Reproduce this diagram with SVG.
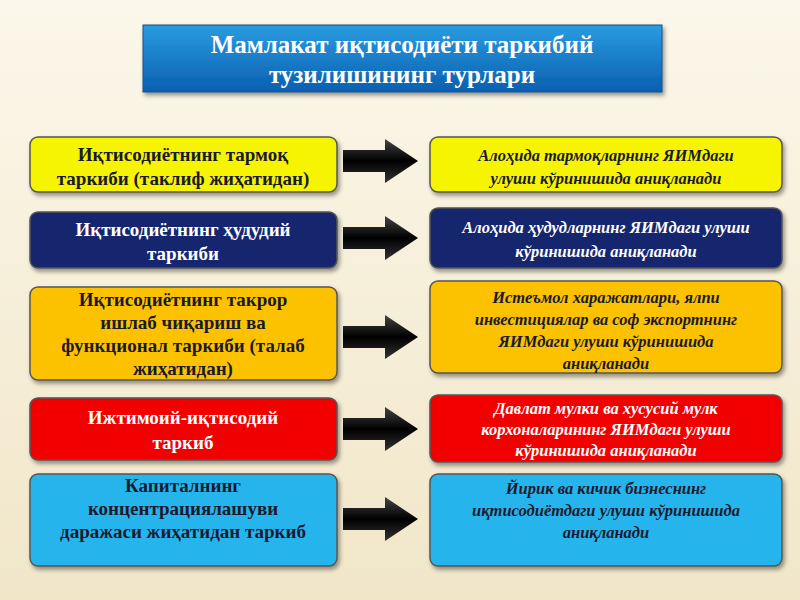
<svg xmlns="http://www.w3.org/2000/svg" width="800" height="600" viewBox="0 0 800 600">
<defs>
<linearGradient id="bg" x1="0" y1="0" x2="0" y2="1"><stop offset="0" stop-color="#fbf7ea"/><stop offset="1" stop-color="#f1e6c8"/></linearGradient>
<linearGradient id="tg" x1="0" y1="0" x2="0" y2="1"><stop offset="0" stop-color="#2a9ce0"/><stop offset="1" stop-color="#0a5fb0"/></linearGradient>
<linearGradient id="ag" x1="0" y1="0" x2="0" y2="1"><stop offset="0" stop-color="#444"/><stop offset="0.5" stop-color="#000"/><stop offset="1" stop-color="#333"/></linearGradient>
<filter id="sh" x="-5%" y="-10%" width="110%" height="130%"><feDropShadow dx="2" dy="3" stdDeviation="2" flood-color="#000" flood-opacity="0.4"/></filter>
</defs>
<style>
.b{stroke:#555;stroke-width:1.5;filter:url(#sh)}
.l{font-family:"Liberation Serif",serif;font-weight:bold;font-size:19px;text-anchor:middle}
.r{font-family:"Liberation Serif",serif;font-weight:bold;font-style:italic;font-size:16.5px;text-anchor:middle}
.d{fill:#1a1a2e}.w{fill:#fff}
.a{fill:url(#ag)}
</style>
<rect width="800" height="600" fill="url(#bg)"/>
<g id="title">
<rect x="143" y="25" width="519" height="67" fill="url(#tg)" stroke="#1a4f8a" filter="url(#sh)"/>
<text x="402" y="53" class="l w" style="font-size:25px">Мамлакат иқтисодиёти таркибий</text>
<text x="402" y="83" class="l w" style="font-size:25px">тузилишининг турлари</text>
</g>
<g id="n1"><rect class="b" x="30" y="137" width="307" height="55" rx="8" fill="#f7f400"/>
<text x="183" y="161" class="l d">Иқтисодиётнинг тармоқ</text><text x="183" y="185" class="l d">таркиби (таклиф жиҳатидан)</text></g>
<g id="n2"><rect class="b" x="30" y="212" width="307" height="56" rx="8" fill="#14286e"/>
<text x="183" y="236" class="l w">Иқтисодиётнинг ҳудудий</text><text x="183" y="260" class="l w">таркиби</text></g>
<g id="n3"><rect class="b" x="30" y="287" width="307" height="93" rx="8" fill="#fcc200"/>
<text x="183" y="306" class="l d">Иқтисодиётнинг такрор</text><text x="183" y="329" class="l d">ишлаб чиқариш ва</text><text x="183" y="352" class="l d">функционал таркиби (талаб</text><text x="183" y="375" class="l d">жиҳатидан)</text></g>
<g id="n4"><rect class="b" x="30" y="398" width="307" height="62" rx="8" fill="#f20000"/>
<text x="183" y="424" class="l w">Ижтимоий-иқтисодий</text><text x="183" y="449" class="l w">таркиб</text></g>
<g id="n5"><rect class="b" x="30" y="474" width="307" height="92" rx="8" fill="#27b4ec"/>
<text x="183" y="492" class="l d">Капиталнинг</text><text x="183" y="515" class="l d">концентрациялашуви</text><text x="183" y="538" class="l d">даражаси жиҳатидан таркиб</text></g>
<g id="m1"><rect class="b" x="430" y="137" width="352" height="55" rx="8" fill="#f7f400"/>
<text x="606" y="161" class="r d">Алоҳида тармоқларнинг ЯИМдаги</text><text x="606" y="184" class="r d">улуши кўринишида аниқланади</text></g>
<g id="m2"><rect class="b" x="430" y="208" width="352" height="60" rx="8" fill="#14286e"/>
<text x="606" y="233" class="r w">Алоҳида ҳудудларнинг ЯИМдаги улуши</text><text x="606" y="257" class="r w">кўринишида аниқланади</text></g>
<g id="m3"><rect class="b" x="430" y="281" width="352" height="92" rx="8" fill="#fcc200"/>
<text x="606" y="303" class="r d">Истеъмол харажатлари, ялпи</text><text x="606" y="325" class="r d">инвестициялар ва соф экспортнинг</text><text x="606" y="347" class="r d">ЯИМдаги улуши кўринишида</text><text x="606" y="369" class="r d">аниқланади</text></g>
<g id="m4"><rect class="b" x="430" y="395" width="352" height="67" rx="8" fill="#f20000"/>
<text x="606" y="414" class="r w">Давлат мулки ва хусусий мулк</text><text x="606" y="435" class="r w">корхоналарининг ЯИМдаги улуши</text><text x="606" y="456" class="r w">кўринишида аниқланади</text></g>
<g id="m5"><rect class="b" x="430" y="474" width="352" height="92" rx="8" fill="#27b4ec"/>
<text x="606" y="494" class="r d">Йирик ва кичик бизнеснинг</text><text x="606" y="516" class="r d">иқтисодиётдаги улуши кўринишида</text><text x="606" y="538" class="r d">аниқланади</text></g>
<g id="connectors">
<path class="a" d="M343,150 H385 V139 L418,161 L385,183 V172 H343 Z"/>
<path class="a" d="M343,227 H385 V216 L418,238 L385,260 V249 H343 Z"/>
<path class="a" d="M343,326 H385 V315 L418,337 L385,359 V348 H343 Z"/>
<path class="a" d="M343,418 H385 V407 L418,429 L385,451 V440 H343 Z"/>
<path class="a" d="M343,508 H385 V497 L418,519 L385,541 V530 H343 Z"/>
</g>
</svg>
